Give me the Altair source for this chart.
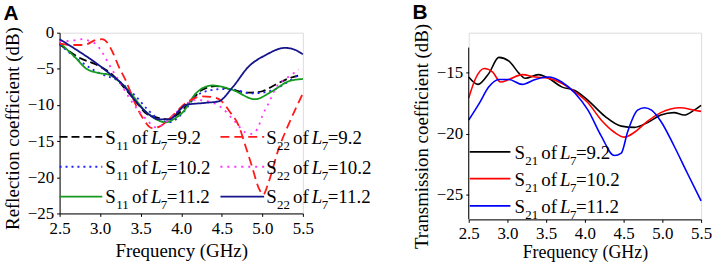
import altair as alt
import pandas as pd

SERIF = "Liberation Serif"
SANS = "Liberation Sans"

# ---------------- Panel A data (Frequency GHz, dB) ----------------
a_s11_92_f = [2.5, 2.75, 2.95, 3.15, 3.32, 3.44, 3.56, 3.73, 3.85, 3.93, 4.1, 4.26, 4.42, 4.63, 4.83, 5.0, 5.16, 5.33, 5.45]
a_s11_92_v = [-1.6, -3.5, -4.4, -5.8, -7.9, -9.5, -11.1, -11.8, -12.0, -11.5, -9.7, -7.9, -7.4, -7.9, -8.3, -8.1, -7.2, -6.3, -5.9]

a_s11_102_f = [2.5, 2.75, 2.91, 3.03, 3.2, 3.44, 3.6, 3.73, 3.85, 4.02, 4.18, 4.34, 4.51, 4.67, 4.85, 5.0, 5.16, 5.33, 5.45]
a_s11_102_v = [-1.6, -3.9, -5.1, -5.8, -6.5, -8.8, -10.8, -12.0, -12.4, -11.1, -8.8, -8.0, -7.8, -7.9, -8.4, -8.3, -7.8, -6.7, -5.8]

a_s11_112_f = [2.5, 2.7, 2.82, 2.99, 3.11, 3.23, 3.36, 3.52, 3.68, 3.81, 3.93, 4.02, 4.18, 4.38, 4.63, 4.91, 5.12, 5.33, 5.5]
a_s11_112_v = [-1.4, -3.5, -4.9, -5.6, -5.8, -6.7, -8.1, -10.4, -11.9, -12.4, -11.8, -11.0, -8.4, -7.3, -7.9, -9.2, -8.1, -6.7, -6.4]

a_s22_92_f = [2.5, 2.65, 2.8, 2.95, 3.02, 3.09, 3.15, 3.23, 3.32, 3.42, 3.52, 3.64, 3.73, 3.89, 4.06, 4.26, 4.42, 4.5, 4.59,
              4.71, 4.79, 4.87, 4.96, 5.01, 5.08, 5.2, 5.3, 5.5]
a_s22_92_v = [-1.5, -1.7, -1.7, -1.0, -0.9, -1.4, -2.6, -4.7, -6.7, -9.5, -11.7, -13.2, -13.0, -11.5, -9.7, -8.8, -9.0, -9.5, -10.8,
              -12.9, -15.6, -18.4, -21.6, -22.4, -20.6, -16.1, -13.3, -8.4]

a_s22_102_f = [2.5, 2.66, 2.78, 2.88, 2.95, 3.03, 3.11, 3.24, 3.4, 3.57, 3.69, 3.81, 3.98, 4.18, 4.34, 4.5, 4.67, 4.79, 4.86,
               4.94, 5.0, 5.08, 5.18, 5.3, 5.45]
a_s22_102_v = [-1.2, -1.1, -0.9, -1.2, -1.6, -2.8, -4.4, -6.8, -9.7, -12.0, -13.1, -12.4, -10.6, -9.3, -9.5, -10.4, -12.4, -13.8, -14.0,
               -13.3, -11.5, -9.7, -7.4, -6.3, -5.1]

a_s22_112_f = [2.5, 2.74, 2.95, 3.11, 3.28, 3.44, 3.6, 3.73, 3.85, 3.99, 4.05, 4.3, 4.46, 4.63, 4.83, 5.04, 5.28, 5.41, 5.5]
a_s22_112_v = [-0.9, -2.6, -4.2, -5.6, -7.2, -9.5, -11.3, -12.0, -12.0, -10.6, -10.0, -9.7, -9.5, -7.6, -4.7, -3.1, -2.1, -2.4, -3.0]

# ---------------- Panel B data ----------------
b_92_f = [2.5, 2.62, 2.76, 2.89, 3.02, 3.15, 3.23, 3.4, 3.53, 3.7, 3.87, 4.04, 4.26, 4.47, 4.64, 4.81, 4.98, 5.15, 5.28, 5.41, 5.5]
b_92_v = [-15.4, -16.0, -15.1, -13.8, -14.1, -15.1, -15.5, -15.2, -15.5, -16.2, -16.5, -17.3, -18.6, -19.4, -19.5, -19.1, -18.5,
          -18.3, -18.5, -18.1, -17.7]

b_102_f = [2.5, 2.59, 2.7, 2.81, 2.91, 3.02, 3.19, 3.36, 3.53, 3.7, 3.87, 4.04, 4.21, 4.38, 4.51, 4.64, 4.81, 4.98, 5.23, 5.41, 5.5]
b_102_v = [-17.1, -15.5, -14.7, -15.0, -15.8, -15.6, -15.2, -15.4, -15.5, -15.9, -16.6, -17.5, -18.9, -19.9, -20.3, -19.9, -19.0,
           -18.3, -17.9, -18.1, -18.2]

b_112_f = [2.5, 2.64, 2.76, 2.89, 3.02, 3.19, 3.36, 3.53, 3.7, 3.87, 4.04, 4.21, 4.38, 4.47, 4.55, 4.68, 4.77, 4.86, 4.98, 5.15,
           5.32, 5.5]
b_112_v = [-18.9, -17.5, -16.2, -15.6, -15.6, -16.0, -15.6, -15.4, -15.8, -16.7, -18.1, -20.2, -21.8, -21.6, -19.9, -18.1, -17.9,
           -18.1, -19.0, -21.0, -23.2, -25.5]

a_series = ["S11_9.2", "S11_10.2", "S11_11.2", "S22_9.2", "S22_10.2", "S22_11.2"]
a_colors = ["#000000", "#2020ff", "#149a1e", "#ff1a1a", "#ff33ff", "#14148c"]
a_dashes = [[8, 4], [2, 4], [1, 0], [9, 5], [2, 5], [1, 0]]
a_subs = ["11", "11", "11", "22", "22", "22"]
a_vals = ["=9.2", "=10.2", "=11.2", "=9.2", "=10.2", "=11.2"]

b_series = ["S21_9.2", "S21_10.2", "S21_11.2"]
b_colors = ["#000000", "#ff0000", "#0000ff"]
b_subs = ["21", "21", "21"]
b_vals = ["=9.2", "=10.2", "=11.2"]


def long_df(key, names, pairs):
    rows = []
    for name, (fs, vs) in zip(names, pairs):
        for i, (f, v) in enumerate(zip(fs, vs)):
            rows.append({key: name, "freq": f, "db": v, "order": i})
    return pd.DataFrame(rows)


df_a = long_df("sa", a_series, [(a_s11_92_f, a_s11_92_v), (a_s11_102_f, a_s11_102_v), (a_s11_112_f, a_s11_112_v),
                                (a_s22_92_f, a_s22_92_v), (a_s22_102_f, a_s22_102_v), (a_s22_112_f, a_s22_112_v)])
df_b = long_df("sb", b_series, [(b_92_f, b_92_v), (b_102_f, b_102_v), (b_112_f, b_112_v)])

color_a = alt.Color("sa:N", scale=alt.Scale(domain=a_series, range=a_colors), legend=None)
dash_a = alt.StrokeDash("sa:N", scale=alt.Scale(domain=a_series, range=a_dashes), legend=None)
color_b = alt.Color("sb:N", scale=alt.Scale(domain=b_series, range=b_colors), legend=None)

axis_common = dict(grid=False, labelFont=SERIF, titleFont=SERIF, labelFontSize=17,
                   labelColor="black", titleColor="black", domainColor="black", tickColor="black",
                   tickSize=3, titleFontWeight="normal", labelOverlap=False, labelFlush=False)

x_ticks = [2.5, 3.0, 3.5, 4.0, 4.5, 5.0, 5.5]


def legend_layers(key, entries, color_enc, dash_enc, ox, oy):
    """entries: list of (series, line_x1, line_x2, line_y, text_x, sub, val) in page pixels."""
    lines = pd.DataFrame([{key: s, "x1": x1 - ox, "x2": x2 - ox, "y": y - oy}
                          for s, x1, x2, y, tx, sb, vl in entries])
    enc = dict(x=alt.X("x1:Q", scale=None, axis=None), x2="x2:Q",
               y=alt.Y("y:Q", scale=None, axis=None), color=color_enc)
    if dash_enc is not None:
        enc["strokeDash"] = dash_enc
    rule = alt.Chart(lines).mark_rule(strokeWidth=1.8).encode(**enc)

    pieces = []
    for s, x1, x2, y, tx, sb, vl in entries:
        base = y + 7 - oy
        subb = y + 13 - oy
        pieces.append({"t": "S", "x": tx - ox, "y": base, "kind": "main"})
        pieces.append({"t": sb, "x": tx + 11 - ox, "y": subb, "kind": "sub"})
        pieces.append({"t": "of", "x": tx + 27 - ox, "y": base, "kind": "main"})
        pieces.append({"t": "L", "x": tx + 46 - ox, "y": base, "kind": "ital"})
        pieces.append({"t": "7", "x": tx + 56 - ox, "y": subb, "kind": "sub"})
        pieces.append({"t": vl, "x": tx + 62 - ox, "y": base, "kind": "main"})
    pdf = pd.DataFrame(pieces)
    layers = [rule]
    for kind, size, style in [("main", 19, "normal"), ("sub", 13, "normal"), ("ital", 19, "italic")]:
        layers.append(
            alt.Chart(pdf[pdf.kind == kind]).mark_text(
                font=SERIF, fontSize=size, fontStyle=style, align="left", baseline="alphabetic", color="black"
            ).encode(x=alt.X("x:Q", scale=None, axis=None), y=alt.Y("y:Q", scale=None, axis=None), text="t:N")
        )
    return layers


# ---------------- Panel A ----------------
A_OX, A_OY = 56, 33
a_lines = alt.Chart(df_a).mark_line(strokeWidth=1.8, interpolate="monotone").encode(
    x=alt.X("freq:Q", scale=alt.Scale(domain=[2.5, 5.5], nice=False, zero=False),
            axis=alt.Axis(title="Frequency (GHz)", values=x_ticks, format=".1f", labelPadding=4,
                          titlePadding=5, titleFontSize=19, **axis_common)),
    y=alt.Y("db:Q", scale=alt.Scale(domain=[-25, 0], nice=False),
            axis=alt.Axis(title="Reflection coefficient (dB)", values=[0, -5, -10, -15, -20, -25],
                          labelPadding=3, titlePadding=5, titleY=96, titleFontSize=19, **axis_common)),
    color=color_a, strokeDash=dash_a, order="order:Q", detail="sa:N",
)

a_entries = []
rows_y = [138, 168, 198]
for i in range(3):
    a_entries.append((a_series[i], 56, 99, rows_y[i], 102, a_subs[i], a_vals[i]))
for i in range(3):
    a_entries.append((a_series[3 + i], 218, 262, rows_y[i], 264, a_subs[3 + i], a_vals[3 + i]))

panel_a = alt.layer(a_lines, *legend_layers("sa", a_entries, color_a, dash_a, A_OX, A_OY)).properties(
    width=245, height=182,
    title=alt.TitleParams("A", anchor="start", font=SANS, fontSize=21, fontWeight="bold", color="black", offset=0),
)

# ---------------- Panel B ----------------
B_OX, B_OY = 466, 33
b_top = -13 + 15 / (173 / 14)
b_lines = alt.Chart(df_b).mark_line(strokeWidth=1.6, interpolate="monotone").encode(
    x=alt.X("freq:Q", scale=alt.Scale(domain=[2.5, 5.5], nice=False, zero=False),
            axis=alt.Axis(title="Frequency (GHz)", values=x_ticks, format=".1f", labelPadding=3,
                          titlePadding=2, titleFontSize=18, **axis_common)),
    y=alt.Y("db:Q", scale=alt.Scale(domain=[-27, b_top], nice=False, zero=False),
            axis=alt.Axis(title="Transmission coefficient (dB)", values=[-15, -20, -25], domain=False,
                          labelPadding=3, titlePadding=5, titleY=104, titleFontSize=19, **axis_common)),
    color=color_b, order="order:Q", detail="sb:N",
)
b_axis_df = pd.DataFrame({"db": [-27], "db_top": [-13]})
b_axis_line = alt.Chart(b_axis_df).mark_rule(color="black", strokeWidth=1).encode(
    x=alt.value(0), y="db:Q", y2="db_top:Q")

b_entries = []
rows_yb = [153, 180, 207.5]
for i in range(3):
    b_entries.append((b_series[i], 467, 508, rows_yb[i], 512, b_subs[i], b_vals[i]))

panel_b = alt.layer(b_lines, b_axis_line, *legend_layers("sb", b_entries, color_b, None, B_OX, B_OY)).properties(
    width=234, height=188,
    title=alt.TitleParams("B", anchor="start", font=SANS, fontSize=21, fontWeight="bold", color="black", offset=0),
)

chart = alt.hconcat(panel_a, panel_b, spacing=39).resolve_scale(
    color="independent", strokeDash="independent"
).properties(
    padding={"left": 2, "top": 1, "right": 0, "bottom": 0}
).configure_view(stroke=None).configure_axis(labelOverlap=False, labelFlush=False).configure(background="white")

chart.save("out.html", embed_options={"renderer": "svg", "actions": False})
